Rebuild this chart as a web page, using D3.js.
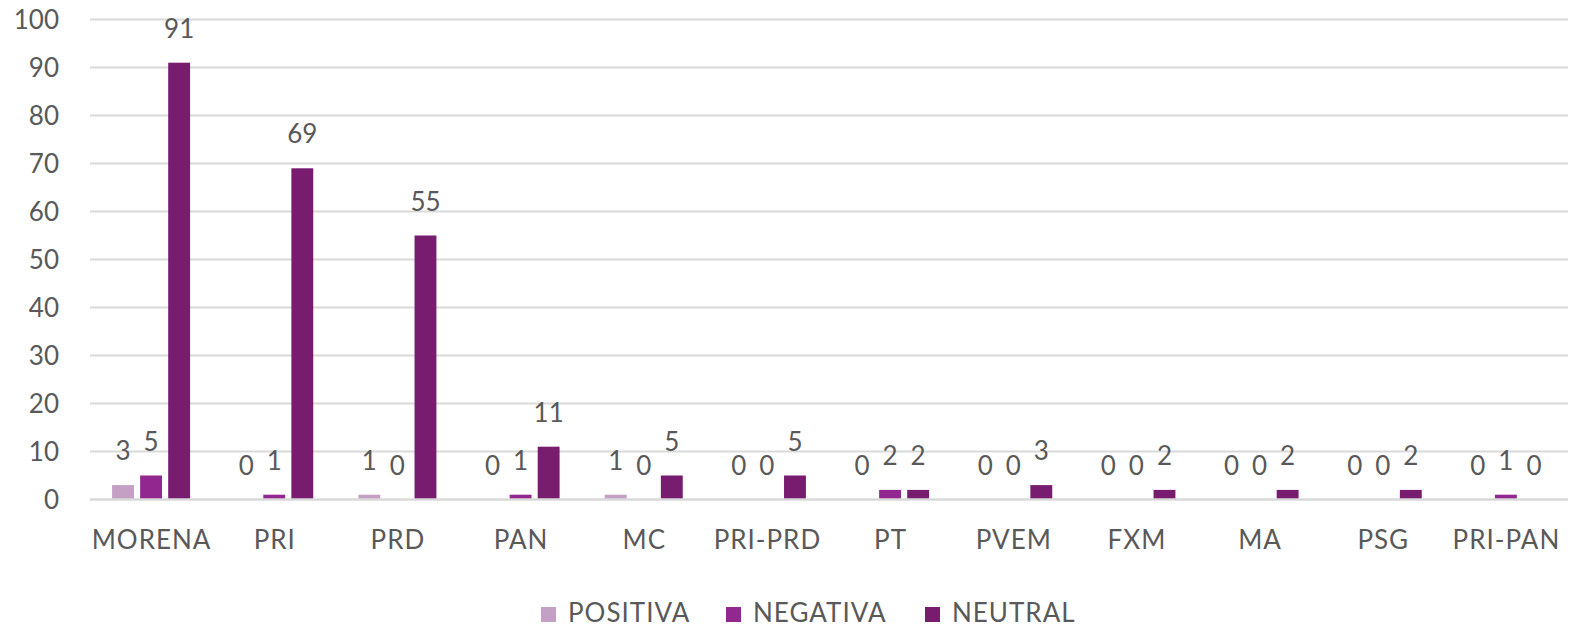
<!DOCTYPE html>
<html><head><meta charset="utf-8">
<script src="https://cdn.jsdelivr.net/npm/d3@7"></script>
<style>body{margin:0;background:#fff}</style>
</head><body>
<svg id="c" width="1574" height="628"></svg>
<script>
const categories = ["MORENA","PRI","PRD","PAN","MC","PRI-PRD","PT","PVEM","FXM","MA","PSG","PRI-PAN"];
const seriesNames = ["POSITIVA","NEGATIVA","NEUTRAL"];
const positiva = [3,0,1,0,1,0,0,0,0,0,0,0];
const negativa = [5,1,0,1,0,0,2,0,0,0,0,1];
const neutral  = [91,69,55,11,5,5,2,3,2,2,2,0];
const yTicks = [0,10,20,30,40,50,60,70,80,90,100];
const colors = ["#C4A0C4","#92278F","#781C70"];

const series = [positiva, negativa, neutral];
const svg = d3.select("#c");
const font = "Lato, 'Open Sans', sans-serif";
const textColor = "#595959";
const fs = 26;
const m = {l:90, r:6};
const W = 1574;
const x = d3.scaleBand().domain(categories).range([m.l, W - m.r]).paddingInner(0).paddingOuter(0);
const x1 = d3.scaleBand().domain(seriesNames).range([0, 78]).paddingInner(0.22);
const y = d3.scaleLinear().domain([0,100]).range([499.5, 19.5]);

// gridlines
svg.append("g").selectAll("line").data(yTicks.filter(d => d > 0)).join("line")
  .attr("x1", m.l).attr("x2", W - m.r)
  .attr("y1", d => y(d)).attr("y2", d => y(d))
  .attr("stroke", "#d9d9d9").attr("stroke-width", 2);

// y axis labels
const yAxis = d3.axisLeft(y).tickValues(yTicks).tickSize(0).tickPadding(0);
const gy = svg.append("g").attr("transform", `translate(59,0)`).call(yAxis);
gy.select(".domain").remove();
gy.selectAll("text").attr("font-family", font).attr("font-size", fs).attr("fill", textColor).attr("dy","0.36em");

// x axis labels
const xAxis = d3.axisBottom(x).tickSize(0).tickPadding(0);
const gx = svg.append("g").attr("transform", `translate(0,${y(0)})`).call(xAxis);
gx.select(".domain").remove();
gx.selectAll("text").attr("font-family", font).attr("font-size", fs).attr("fill", textColor)
  .attr("letter-spacing", "1px").attr("dy", "1.9em");

// bars
const groups = svg.append("g").selectAll("g").data(categories).join("g")
  .attr("transform", c => `translate(${x(c) + x.bandwidth()/2 - 39.5},0)`);
groups.each(function(c, i) {
  const g = d3.select(this);
  seriesNames.forEach((s, j) => {
    const v = series[j][i];
    if (v > 0) {
      g.append("rect").attr("x", x1(s)).attr("width", x1.bandwidth())
        .attr("y", y(v)).attr("height", y(0) - y(v)).attr("fill", colors[j]);
    }
    g.append("text").attr("x", x1(s) + x1.bandwidth()/2).attr("y", y(v) - 25)
      .attr("text-anchor", "middle").attr("font-family", font).attr("font-size", fs)
      .attr("fill", textColor).text(v);
  });
});

// zero line on top
svg.append("line").attr("x1", m.l).attr("x2", W - m.r).attr("y1", y(0)).attr("y2", y(0))
  .attr("stroke", "#d9d9d9").attr("stroke-width", 2.5);

// legend
const legX = [541, 726, 925];
const leg = svg.append("g");
seriesNames.forEach((s, j) => {
  leg.append("rect").attr("x", legX[j]).attr("y", 607).attr("width", 15).attr("height", 15).attr("fill", colors[j]);
  leg.append("text").attr("x", legX[j] + 27).attr("y", 622).attr("font-family", font).attr("font-size", fs)
    .attr("letter-spacing", "1px").attr("fill", textColor).text(s);
});
</script>
</body></html>
